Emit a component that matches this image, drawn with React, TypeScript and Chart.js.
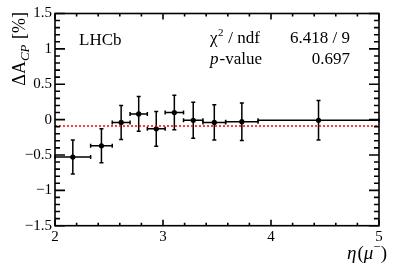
import { useEffect, useRef } from "react";
import { Chart, registerables } from "chart.js";

Chart.register(...registerables);

// ---- data ----
const etaCenter = [2.165, 2.43, 2.6125, 2.775, 2.9375, 3.105, 3.28, 3.475, 3.73, 4.44];
const etaHalfWidth = [0.165, 0.1, 0.0825, 0.08, 0.0825, 0.085, 0.09, 0.105, 0.15, 0.56];
const deltaACP = [-0.53, -0.37, -0.04, 0.08, -0.13, 0.1, -0.01, -0.04, -0.03, -0.01];
const deltaACPErr = [0.24, 0.24, 0.24, 0.245, 0.245, 0.245, 0.255, 0.25, 0.265, 0.28];
const fitValue = -0.09;
const xRange = [2, 5];
const yRange = [-1.5, 1.5];
const experimentLabel = "LHCb";
const chi2Value = "6.418 / 9";
const pValue = "0.697";

const SERIF = '"Liberation Serif", "Times New Roman", serif';

const fmt = (v: number) => (v < 0 ? "\u2212" + String(Math.abs(v)) : String(v));

const rootStyle = {
  id: "rootStyle",
  beforeDatasetsDraw(chart: any) {
    const { ctx, scales } = chart;
    const x = scales.x;
    const y = scales.y;
    ctx.save();
    ctx.strokeStyle = "#000";
    ctx.lineWidth = 1.5;
    const cap = 2;
    for (let i = 0; i < etaCenter.length; i++) {
      const px = x.getPixelForValue(etaCenter[i]);
      const py = y.getPixelForValue(deltaACP[i]);
      const xl = x.getPixelForValue(etaCenter[i] - etaHalfWidth[i]);
      const xr = x.getPixelForValue(etaCenter[i] + etaHalfWidth[i]);
      const yt = y.getPixelForValue(deltaACP[i] + deltaACPErr[i]);
      const yb = y.getPixelForValue(deltaACP[i] - deltaACPErr[i]);
      ctx.beginPath();
      ctx.moveTo(xl, py);
      ctx.lineTo(xr, py);
      ctx.moveTo(px, yt);
      ctx.lineTo(px, yb);
      ctx.moveTo(px - cap, yt);
      ctx.lineTo(px + cap, yt);
      ctx.moveTo(px - cap, yb);
      ctx.lineTo(px + cap, yb);
      ctx.moveTo(xl, py - cap);
      ctx.lineTo(xl, py + cap);
      ctx.moveTo(xr, py - cap);
      ctx.lineTo(xr, py + cap);
      ctx.stroke();
    }
    ctx.restore();
  },
  afterDraw(chart: any) {
    const { ctx, chartArea: a, scales } = chart;
    const x = scales.x;
    const y = scales.y;
    ctx.save();
    ctx.strokeStyle = "#000";
    ctx.lineWidth = 1.6;
    ctx.strokeRect(a.left, a.top, a.right - a.left, a.bottom - a.top);
    ctx.beginPath();
    for (let k = 0; k <= 15; k++) {
      const v = xRange[0] + k * 0.2;
      const px = x.getPixelForValue(v);
      const major = k % 5 === 0;
      const len = major ? 6 : 3;
      ctx.moveTo(px, a.bottom);
      ctx.lineTo(px, a.bottom - len);
      ctx.moveTo(px, a.top);
      ctx.lineTo(px, a.top + len);
    }
    for (let k = 0; k <= 30; k++) {
      const v = yRange[0] + k * 0.1;
      const py = y.getPixelForValue(v);
      const major = k % 5 === 0;
      const len = major ? 10 : 5;
      ctx.moveTo(a.left, py);
      ctx.lineTo(a.left + len, py);
      ctx.moveTo(a.right, py);
      ctx.lineTo(a.right - len, py);
    }
    ctx.stroke();

    ctx.fillStyle = "#000";
    ctx.textBaseline = "alphabetic";
    ctx.textAlign = "left";
    ctx.font = `17px ${SERIF}`;
    ctx.fillText(experimentLabel, 79, 45);

    let cx = 210;
    ctx.font = `17px ${SERIF}`;
    ctx.fillText("\u03c7", cx, 43);
    cx += ctx.measureText("\u03c7").width;
    ctx.font = `11px ${SERIF}`;
    ctx.fillText("2", cx + 0.5, 36);
    cx += ctx.measureText("2").width + 1;
    ctx.font = `17px ${SERIF}`;
    ctx.fillText(" / ndf", cx, 43);
    ctx.textAlign = "right";
    ctx.fillText(chi2Value, 350, 43);

    ctx.textAlign = "left";
    let pxp = 210;
    ctx.font = `italic 17px ${SERIF}`;
    ctx.fillText("p", pxp, 64);
    pxp += ctx.measureText("p").width + 1;
    ctx.font = `17px ${SERIF}`;
    ctx.fillText("-value", pxp, 64);
    ctx.textAlign = "right";
    ctx.fillText(pValue, 350, 64);

    // y title, rotated
    ctx.textAlign = "left";
    const big = `18px ${SERIF}`;
    const sub = `italic 13px ${SERIF}`;
    ctx.font = big;
    const w1 = ctx.measureText("\u0394A").width;
    const w3 = ctx.measureText(" [%]").width;
    ctx.font = sub;
    const w2 = ctx.measureText("CP").width + 1;
    const total = w1 + w2 + w3;
    ctx.save();
    ctx.translate(25, 12 + total);
    ctx.rotate(-Math.PI / 2);
    ctx.font = big;
    ctx.fillText("\u0394A", 0, 0);
    ctx.font = sub;
    ctx.fillText("CP", w1, 4);
    ctx.font = big;
    ctx.fillText(" [%]", w1 + w2, 0);
    ctx.restore();

    // x title: eta(mu^-), right aligned
    const f = `19px ${SERIF}`;
    const fi = `italic 19px ${SERIF}`;
    const fs = `13px ${SERIF}`;
    const parts: [string, string, number, number][] = [
      ["\u03b7", fi, 0, 1],
      ["(", f, 0, 0],
      ["\u03bc", fi, 0, 0],
      ["\u2212", fs, -8, 0],
      [")", f, 0, 0],
    ];
    let tw = 0;
    const widths = parts.map(([t, ft, , gap]) => {
      ctx.font = ft;
      const w = ctx.measureText(t).width + gap;
      tw += w;
      return w;
    });
    let tx = 387 - tw;
    parts.forEach(([t, ft, dy], i) => {
      ctx.font = ft;
      ctx.fillText(t, tx, 259 + dy);
      tx += widths[i];
    });
    ctx.restore();
  },
};

export default function App() {
  const ref = useRef<HTMLCanvasElement | null>(null);
  useEffect(() => {
    document.body.style.margin = "0";
    const canvas = ref.current;
    if (!canvas) return;
    const points = etaCenter.map((xv, i) => ({ x: xv, y: deltaACP[i] }));
    const chart = new Chart(canvas, {
      type: "scatter",
      data: {
        datasets: [
          {
            type: "line",
            data: [
              { x: xRange[0], y: fitValue },
              { x: xRange[1], y: fitValue },
            ],
            borderColor: "#ff0000",
            borderWidth: 1.5,
            borderDash: [2, 2],
            pointRadius: 0,
            fill: false,
          } as any,
          {
            data: points,
            pointRadius: 2.6,
            pointBackgroundColor: "#000",
            pointBorderColor: "#000",
            pointBorderWidth: 0,
          },
        ],
      },
      options: {
        responsive: false,
        animation: false,
        devicePixelRatio: 1,
        layout: { padding: { top: 13.5, right: 20, left: 0, bottom: 0 } },
        plugins: {
          legend: { display: false },
          tooltip: { enabled: false },
        },
        scales: {
          x: {
            type: "linear",
            min: xRange[0],
            max: xRange[1],
            grid: { display: false, drawTicks: false, tickLength: 0 },
            border: { display: false },
            ticks: {
              stepSize: 1,
              color: "#000",
              font: { family: SERIF, size: 15 },
              padding: 2,
              maxRotation: 0,
              callback: (v: any) => fmt(Number(v)),
            },
            afterFit: (s: any) => {
              s.height = 44.3;
            },
          },
          y: {
            type: "linear",
            min: yRange[0],
            max: yRange[1],
            grid: { display: false, drawTicks: false, tickLength: 0 },
            border: { display: false },
            ticks: {
              stepSize: 0.5,
              color: "#000",
              font: { family: SERIF, size: 15 },
              padding: 3,
              callback: (v: any) => fmt(Number(v)),
            },
            afterFit: (s: any) => {
              s.width = 55;
            },
          },
        },
      },
      plugins: [rootStyle],
    });
    return () => chart.destroy();
  }, []);
  return (
    <div style={{ position: "absolute", left: 0, top: 0, width: 399, height: 270 }}>
      <canvas ref={ref} width={399} height={270} style={{ width: 399, height: 270 }} />
    </div>
  );
}
